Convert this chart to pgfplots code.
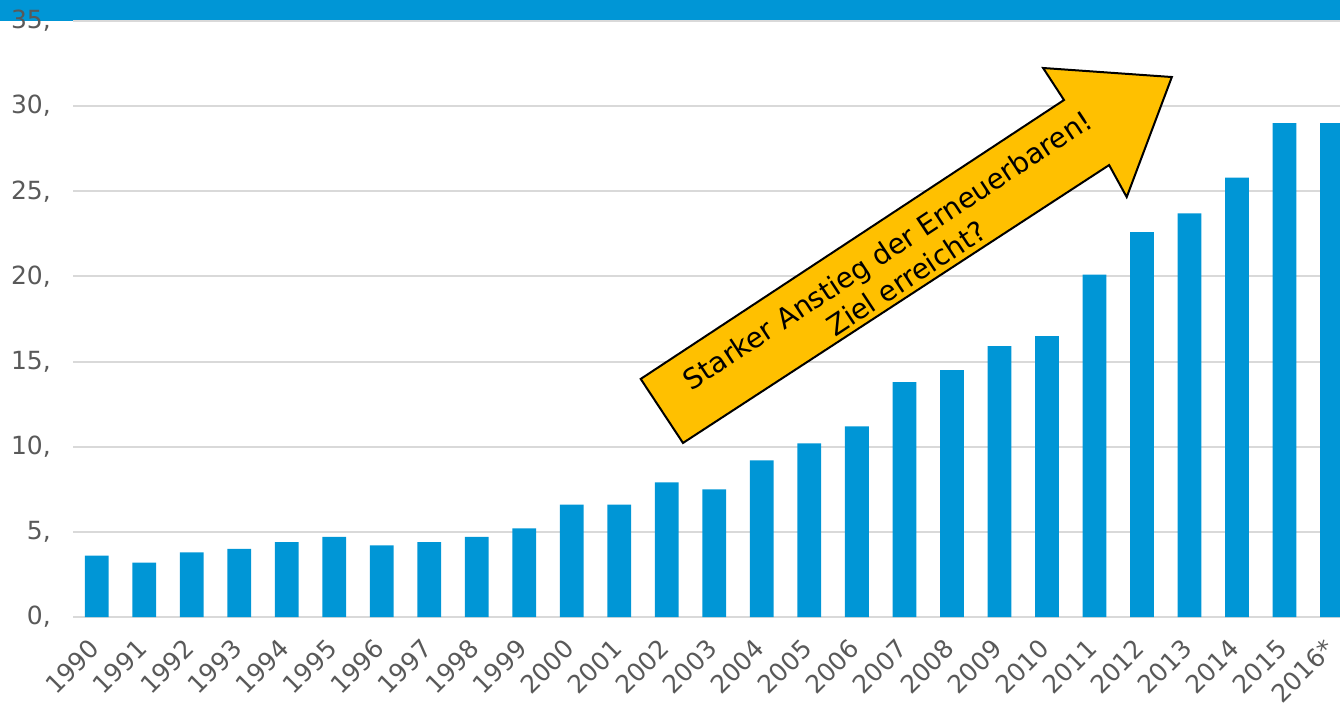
\documentclass[border=0pt]{standalone}
\usepackage{pgfplots}
\pgfplotsset{compat=1.18}
\usepackage{fontspec}
\setmainfont{DejaVu Sans}
\definecolor{barblue}{RGB}{0,150,214}
\definecolor{arrowgold}{RGB}{255,192,0}
\definecolor{labelgray}{RGB}{89,89,89}
\definecolor{gridgray}{RGB}{217,217,217}
\begin{document}
\begin{tikzpicture}[x=1pt,y=1pt]
\useasboundingbox (0,0) rectangle (1340,702);
\fill[barblue] (0,681) rectangle (1340,702);
\begin{axis}[
  at={(73pt,85pt)}, anchor=south west,
  scale only axis, width=1267pt, height=596pt,
  xmin=-0.5, xmax=26.17, ymin=0, ymax=35,
  axis line style={draw=none},
  major tick length=0pt,
  ymajorgrids, grid style={gridgray, line width=2pt},
  ytick={0,5,10,15,20,25,30,35},
  yticklabels={{0,},{5,},{10,},{15,},{20,},{25,},{30,},{35,}},
  xtick={0,...,26},
  xticklabels={1990,1991,1992,1993,1994,1995,1996,1997,1998,1999,2000,2001,2002,2003,2004,2005,2006,2007,2008,2009,2010,2011,2012,2013,2014,2015,2016*},
  yticklabel style={font=\fontsize{25}{30}\selectfont, text=labelgray, anchor=east, inner sep=0pt, xshift=-22pt},
  xticklabel style={font=\fontsize{25}{30}\selectfont, text=labelgray, yshift=-27pt, xshift=-2pt, rotate=45, anchor=east, inner sep=0pt},
]
\addplot[ybar, bar width=0.5, fill=barblue, draw=none] coordinates {
(0,3.6) (1,3.2) (2,3.8) (3,4.0) (4,4.4) (5,4.7) (6,4.2) (7,4.4) (8,4.7) (9,5.2)
(10,6.6) (11,6.6) (12,7.9) (13,7.5) (14,9.2) (15,10.2) (16,11.2) (17,13.8) (18,14.5) (19,15.9)
(20,16.5) (21,20.1) (22,22.6) (23,23.7) (24,25.8) (25,29.0) (26,29.0)
};
\draw[fill=arrowgold, line width=2pt, line join=miter]
  (axis cs:11.45,13.98) -- (axis cs:20.36,30.36) -- (axis cs:19.92,32.24) -- (axis cs:22.63,31.71)
  -- (axis cs:21.68,24.66) -- (axis cs:21.31,26.54) -- (axis cs:12.34,10.22) -- cycle;
\node[rotate=33.4, align=center, font=\fontsize{28}{34}\selectfont, text=black] at (axis cs:16.84,20.73) {Starker Anstieg der Erneuerbaren!\\Ziel erreicht?};
\end{axis}
\end{tikzpicture}
\end{document}
